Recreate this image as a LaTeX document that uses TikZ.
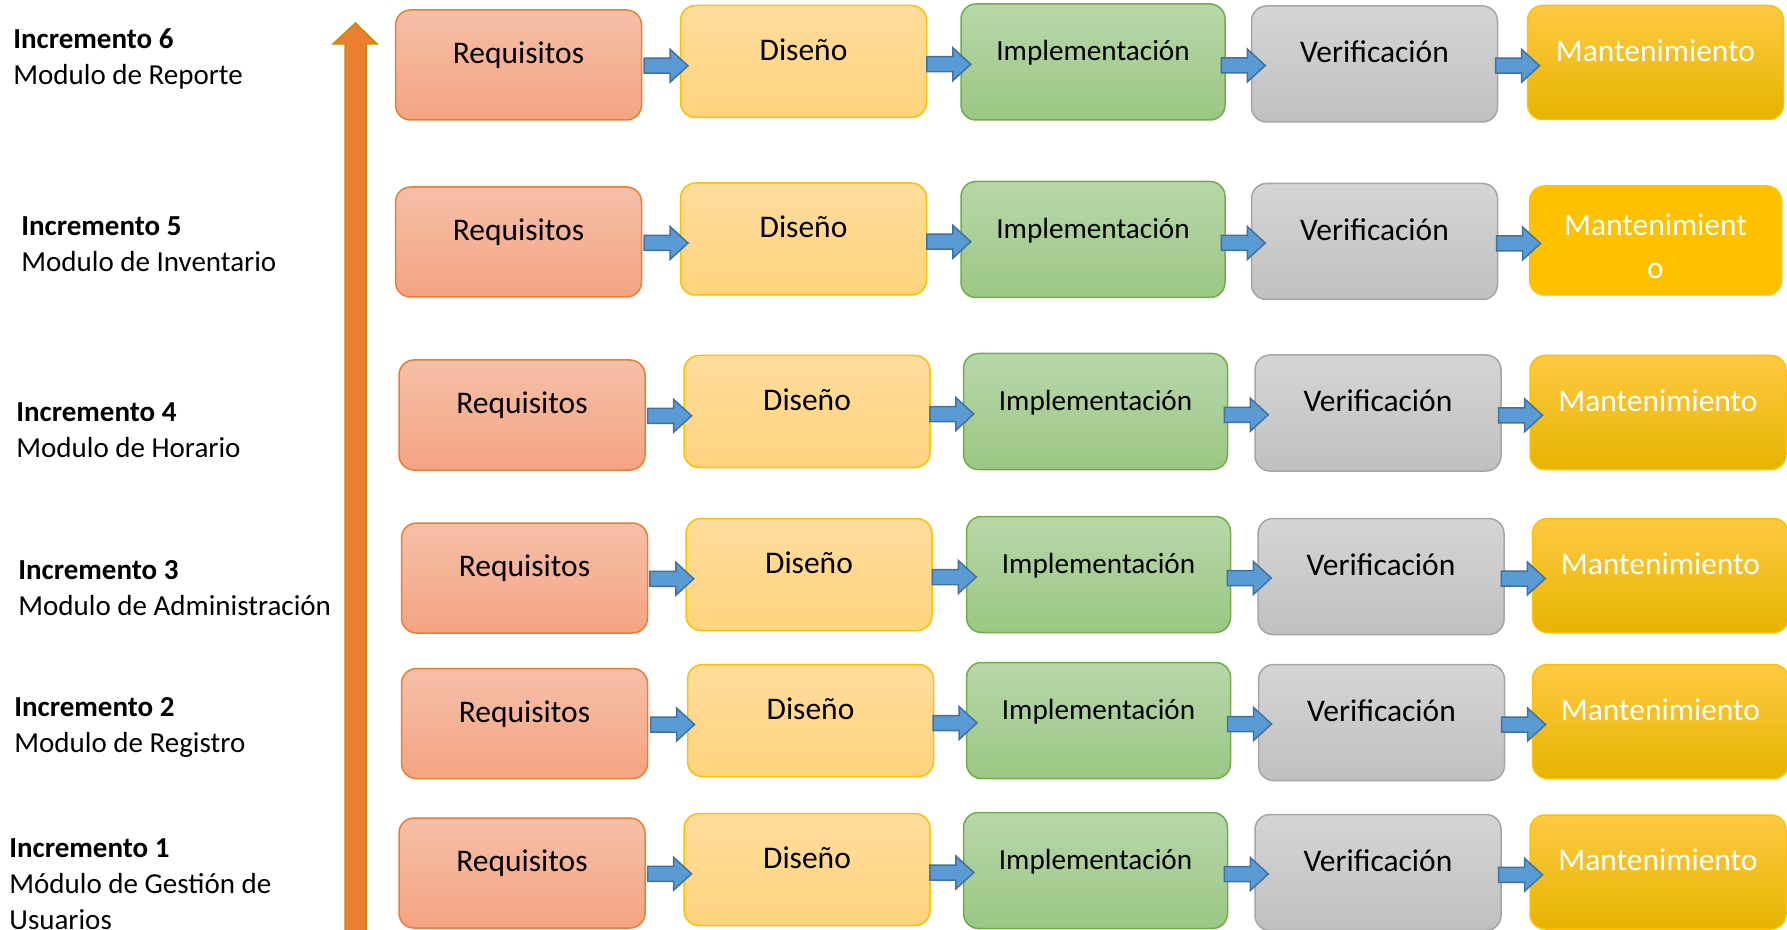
\documentclass[tikz,border=0pt]{standalone}
\usepackage{fontspec}
\setmainfont{Carlito}
\usepackage{color}
\usepackage{tikz}
\usetikzlibrary{calc}

\definecolor{reqarriba}{HTML}{F6BFA8}
\definecolor{reqabajo}{HTML}{F4A482}
\definecolor{reqborde}{HTML}{ED7D31}
\definecolor{disarriba}{HTML}{FFDC9C}
\definecolor{disabajo}{HTML}{FFD47E}
\definecolor{disborde}{HTML}{FFC000}
\definecolor{imparriba}{HTML}{B7D7A9}
\definecolor{impabajo}{HTML}{9BC784}
\definecolor{impborde}{HTML}{70AD47}
\definecolor{verarriba}{HTML}{D5D5D5}
\definecolor{verabajo}{HTML}{C0C0C0}
\definecolor{verborde}{HTML}{A5A5A5}
\definecolor{manarriba}{HTML}{FFC942}
\definecolor{manabajo}{HTML}{E6B400}
\definecolor{manborde}{HTML}{FFC000}
\definecolor{azulfondo}{HTML}{5B9BD5}
\definecolor{azulborde}{HTML}{41719C}
\definecolor{naranja}{HTML}{ED7D31}
\definecolor{naranjaborde}{HTML}{BF9000}

% flecha gruesa entre dos fases
\newcommand{\flecha}[2]{%
\coordinate (m) at ($(#1.east)!0.5!(#2.west)+(2.5pt,-1.25pt)$) ;
\draw[flechaazul] ([shift={(-11pt,3.75pt)}]m) -- ([shift={(2pt,3.75pt)}]m)
  -- ([shift={(2pt,8.25pt)}]m) -- ([shift={(11pt,0pt)}]m)
  -- ([shift={(2pt,-8.25pt)}]m) -- ([shift={(2pt,-3.75pt)}]m)
  -- ([shift={(-11pt,-3.75pt)}]m) -- cycle ;}

\begin{document}
\begin{tikzpicture}[x=0.5pt, y=-0.5pt,
  fase/.style={rectangle, rounded corners=7.5pt, line width=0.75pt, inner sep=0pt,
    font=\fontsize{15.75pt}{19pt}\selectfont},
  alto/.style={text height=10pt, text depth=11.2pt},
  req/.style={fase, alto, draw=reqborde, top color=reqarriba, bottom color=reqabajo,
    minimum width=123pt, minimum height=55pt},
  dis/.style={fase, alto, draw=disborde, top color=disarriba, bottom color=disabajo,
    minimum width=123pt, minimum height=56pt},
  imp/.style={fase, alto, draw=impborde, top color=imparriba, bottom color=impabajo,
    minimum width=132pt, minimum height=58pt, font=\fontsize{14.6pt}{18pt}\selectfont},
  ver/.style={fase, alto, draw=verborde, top color=verarriba, bottom color=verabajo,
    minimum width=123pt, minimum height=58pt},
  man/.style={fase, alto, draw=manborde, top color=manarriba, bottom color=manabajo,
    text=white, minimum width=128pt, minimum height=57pt},
  flechaazul/.style={draw=azulborde, fill=azulfondo, line width=0.75pt, line join=miter},
  etiqueta/.style={anchor=north west, align=left, inner sep=0pt,
    font=\fontsize{14.5pt}{18pt}\selectfont}]
\useasboundingbox (0,0) rectangle (1787,930) ;

% flecha de incrementos
\draw[naranjaborde, fill=naranja, line width=0.75pt] (345,940) -- (345,44) -- (333,44)
  -- (355.5,23) -- (377,44) -- (366,44) -- (366,940) ;

% etiquetas
\node[etiqueta] (inc6) at (13,28.5) {\textbf{Incremento 6}\\Modulo de Reporte} ;
\node[etiqueta] (inc5) at (21,216.5) {\textbf{Incremento 5}\\Modulo de Inventario} ;
\node[etiqueta] (inc4) at (16,402) {\textbf{Incremento 4}\\Modulo de Horario} ;
\node[etiqueta] (inc3) at (18,560.5) {\textbf{Incremento 3}\\Modulo de Administración} ;
\node[etiqueta] (inc2) at (14,697.5) {\textbf{Incremento 2}\\Modulo de Registro} ;
\node[etiqueta] (inc1) at (9,838) {\textbf{Incremento 1}\\Módulo de Gestión de\\Usuarios} ;

% incremento 6
\node[req] (req6) at (518.5,65) {Requisitos} ;
\node[dis] (dis6) at (803.5,61.5) {Diseño} ;
\node[imp] (imp6) at (1093,62) {Implementación} ;
\node[ver] (ver6) at (1374.5,64) {Verificación} ;
\node[man] (man6) at (1655.5,62.5) {Mantenimiento} ;

% incremento 5
\node[req] (req5) at (518.5,242) {Requisitos} ;
\node[dis] (dis5) at (803.5,239) {Diseño} ;
\node[imp] (imp5) at (1093,239.5) {Implementación} ;
\node[ver] (ver5) at (1374.5,241.5) {Verificación} ;
\node[fase, draw=manborde, fill=manborde, text=white, align=center,
  minimum width=126pt, minimum height=54.5pt,
  font=\fontsize{15.75pt}{21.5pt}\selectfont] (man5) at (1655.5,240.5) {\rule{0pt}{16.5pt}Mantenimient\\o} ;

% incremento 4
\node[req] (req4) at (522,415) {Requisitos} ;
\node[dis] (dis4) at (807,411.5) {Diseño} ;
\node[imp] (imp4) at (1095.5,411.5) {Implementación} ;
\node[ver] (ver4) at (1378,413) {Verificación} ;
\node[man] (man4) at (1658,412.5) {Mantenimiento} ;

% incremento 3
\node[req] (req3) at (524.5,578) {Requisitos} ;
\node[dis] (dis3) at (809,574.5) {Diseño} ;
\node[imp] (imp3) at (1098.5,574.5) {Implementación} ;
\node[ver] (ver3) at (1381,576.5) {Verificación} ;
\node[man] (man3) at (1660.5,575.5) {Mantenimiento} ;

% incremento 2
\node[req] (req2) at (524.5,723.5) {Requisitos} ;
\node[dis] (dis2) at (810.5,720.5) {Diseño} ;
\node[imp] (imp2) at (1098.5,720.5) {Implementación} ;
\node[ver] (ver2) at (1381.5,722.5) {Verificación} ;
\node[man] (man2) at (1660.5,721.5) {Mantenimiento} ;

% incremento 1
\node[req] (req1) at (522,873) {Requisitos} ;
\node[dis] (dis1) at (807,869.5) {Diseño} ;
\node[imp] (imp1) at (1095.5,870.5) {Implementación} ;
\node[ver] (ver1) at (1378,872.5) {Verificación} ;
\node[man] (man1) at (1658,872) {Mantenimiento} ;

% flechas
\flecha{req6}{dis6} \flecha{dis6}{imp6} \flecha{imp6}{ver6} \flecha{ver6}{man6}
\flecha{req5}{dis5} \flecha{dis5}{imp5} \flecha{imp5}{ver5} \flecha{ver5}{man5}
\flecha{req4}{dis4} \flecha{dis4}{imp4} \flecha{imp4}{ver4} \flecha{ver4}{man4}
\flecha{req3}{dis3} \flecha{dis3}{imp3} \flecha{imp3}{ver3} \flecha{ver3}{man3}
\flecha{req2}{dis2} \flecha{dis2}{imp2} \flecha{imp2}{ver2} \flecha{ver2}{man2}
\flecha{req1}{dis1} \flecha{dis1}{imp1} \flecha{imp1}{ver1} \flecha{ver1}{man1}
\end{tikzpicture}
\end{document}
